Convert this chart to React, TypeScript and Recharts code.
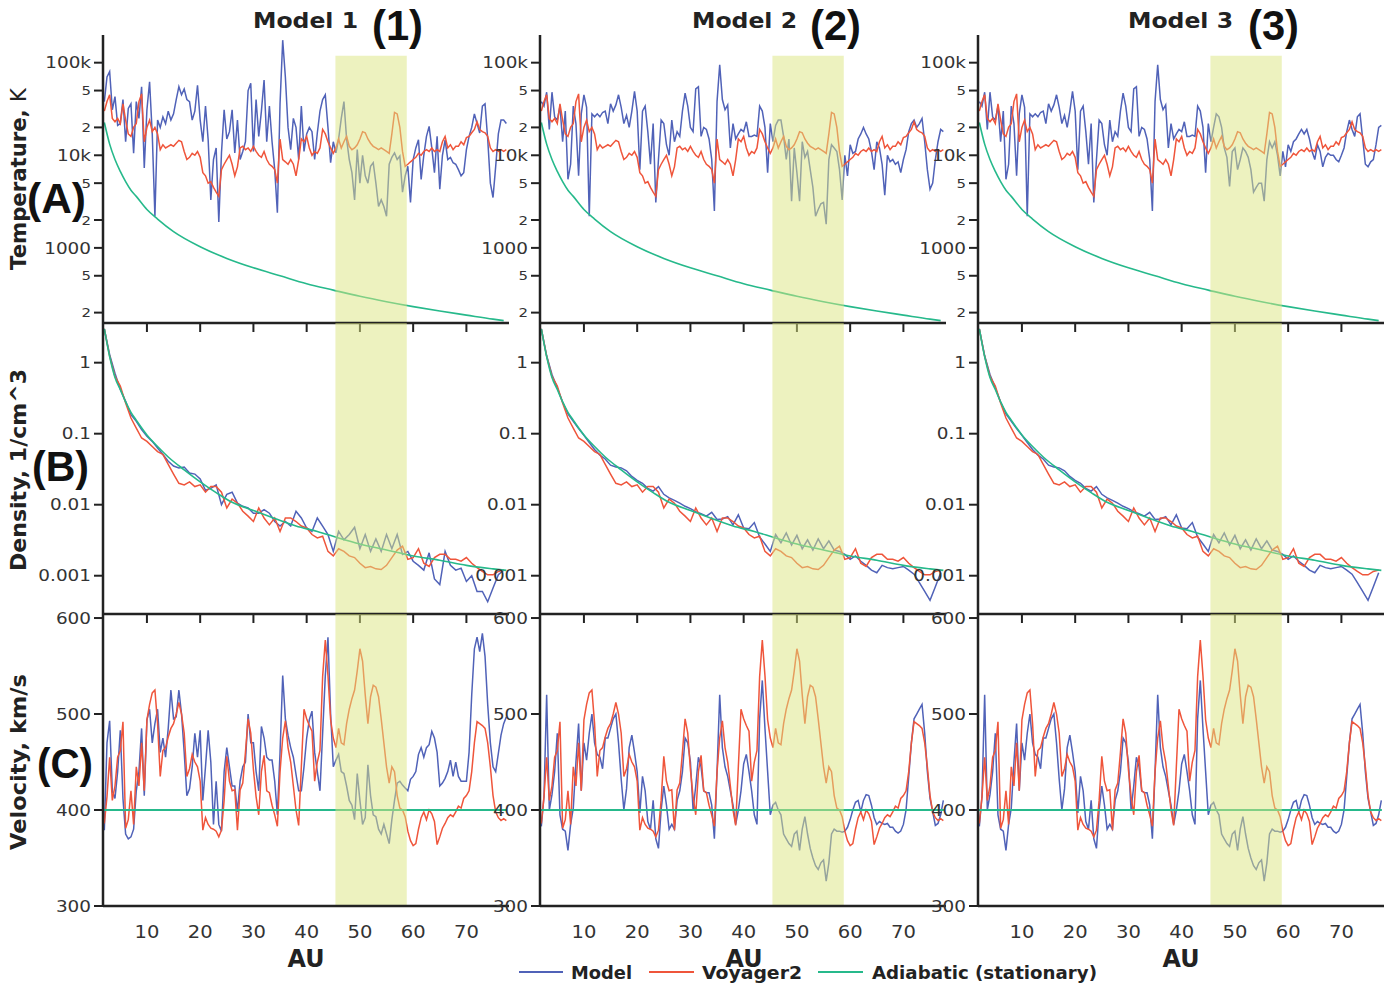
import React from 'react';
import { LineChart, Line, XAxis, YAxis, ReferenceArea } from 'recharts';

const FONT = "'DejaVu Sans', Verdana, sans-serif";
const BIG_FONT = "'Liberation Sans', Arial, sans-serif";
const BLUE = '#5062b8';
const RED = '#ef553b';
const GREEN = '#26b98b';
const BAND = '#dbe57f';
const INK = '#222';

// AU grids
const auFine = [
  2, 2.5, 3, 3.5, 4, 4.5, 5, 5.5, 6, 6.5,
  7, 7.5, 8, 8.5, 9, 9.5, 10, 10.5, 11, 11.5,
  12, 12.5, 13, 13.5, 14, 14.5, 15, 15.5, 16, 16.5,
  17, 17.5, 18, 18.5, 19, 19.5, 20, 20.5, 21, 21.5,
  22, 22.5, 23, 23.5, 24, 24.5, 25, 25.5, 26, 26.5,
  27, 27.5, 28, 28.5, 29, 29.5, 30, 30.5, 31, 31.5,
  32, 32.5, 33, 33.5, 34, 34.5, 35, 35.5, 36, 36.5,
  37, 37.5, 38, 38.5, 39, 39.5, 40, 40.5, 41, 41.5,
  42, 42.5, 43, 43.5, 44, 44.5, 45, 45.5, 46, 46.5,
  47, 47.5, 48, 48.5, 49, 49.5, 50, 50.5, 51, 51.5,
  52, 52.5, 53, 53.5, 54, 54.5, 55, 55.5, 56, 56.5,
  57, 57.5, 58, 58.5, 59, 59.5, 60, 60.5, 61, 61.5,
  62, 62.5, 63, 63.5, 64, 64.5, 65, 65.5, 66, 66.5,
  67, 67.5, 68, 68.5, 69, 69.5, 70, 70.5, 71, 71.5,
  72, 72.5, 73, 73.5, 74, 74.5, 75, 75.5, 76, 76.5,
  77, 77.5,
];
const auCoarse = [
  2, 3, 4, 5, 6, 7, 8, 9, 10, 11,
  12, 13, 14, 15, 16, 17, 18, 19, 20, 21,
  22, 23, 24, 25, 26, 27, 28, 29, 30, 31,
  32, 33, 34, 35, 36, 37, 38, 39, 40, 41,
  42, 43, 44, 45, 46, 47, 48, 49, 50, 51,
  52, 53, 54, 55, 56, 57, 58, 59, 60, 61,
  62, 63, 64, 65, 66, 67, 68, 69, 70, 71,
  72, 73, 74, 75, 76, 77,
];

// Temperature, K
const voyT = [
  30000, 38000, 45000, 25000, 23000, 25000, 22000, 36000, 24000, 17000,
  16000, 20000, 22000, 38000, 46000, 14000, 20000, 24000, 18000, 20000,
  17000, 11500, 13000, 12000, 12500, 13000, 12500, 13500, 14500, 14000,
  11000, 9000, 9500, 10500, 10000, 11000, 9500, 6500, 6000, 5000,
  5200, 4500, 4000, 3600, 7000, 8000, 9000, 10000, 8000, 6000,
  7500, 12000, 12500, 11500, 12000, 11000, 12500, 11000, 10000, 9500,
  11000, 9000, 8000, 7600, 7000, 5000, 15000, 9000, 8500, 8000,
  9000, 8000, 6000, 9000, 15000, 14000, 16000, 12000, 10000, 11000,
  10500, 12000, 19000, 17000, 14000, 12000, 10500, 12000, 15000, 12000,
  14000, 16000, 12500, 11500, 12000, 13000, 15000, 18000, 17500, 15000,
  13500, 12500, 12000, 11500, 12000, 11500, 11000, 10500, 17000, 29000,
  28000, 20000, 11000, 7600, 8000, 8500, 9000, 9500, 10500, 10000,
  11000, 11500, 11000, 12000, 11000, 11500, 11000, 14000, 16000, 12000,
  13000, 11500, 12500, 12500, 14000, 13000, 15500, 16000, 17500, 19000,
  23000, 19000, 18000, 17500, 16000, 12000, 11000, 11500, 11000, 11500,
  11000, 11500,
];
const m1T = [
  38000, 70000, 80000, 31000, 43000, 21000, 22000, 40000, 14000, 32000,
  36000, 10500, 38000, 25000, 55000, 7300, 31000, 62000, 17000, 2200,
  24000, 20000, 26000, 22000, 30000, 24000, 28000, 40000, 55000, 45000,
  52000, 40000, 38000, 24000, 30000, 57000, 24000, 14000, 34000, 14700,
  3300, 9000, 12000, 1900, 10600, 31000, 15000, 18000, 31000, 10600,
  24000, 9000, 11000, 14000, 50000, 60000, 11000, 40000, 16000, 30000,
  65000, 14000, 34000, 14000, 7000, 2400, 36000, 175000, 70000, 20000,
  11500, 25000, 20000, 9000, 34000, 11000, 17000, 20000, 18000, 9000,
  17400, 30000, 40000, 45000, 20000, 8300, 14000, 10600, 15000, 25000,
  38000, 15000, 9000, 6500, 3300, 11500, 5000, 10000, 6000, 5000,
  7600, 8300, 5000, 2800, 3300, 2800, 2200, 8000, 9500, 10600,
  9000, 9800, 4000, 6000, 7600, 3100, 9000, 12000, 14700, 5500,
  10000, 16000, 20500, 12000, 6500, 16000, 4300, 10000, 14700, 9000,
  9500, 8300, 8000, 7000, 6000, 6500, 11500, 16000, 20000, 28000,
  22000, 17400, 34000, 36000, 15000, 5000, 3500, 7600, 17000, 24000,
  24000, 22000,
];
const m2T = [
  38000, 34000, 48000, 19000, 48000, 26000, 24000, 34000, 14000, 30000,
  5500, 8000, 34000, 22000, 6000, 28000, 45000, 33000, 2200, 28000,
  26000, 28000, 26000, 29000, 30000, 22000, 36000, 30000, 35000, 45000,
  33000, 22000, 27000, 20000, 30000, 49000, 30000, 7000, 30000, 34000,
  18000, 8000, 22000, 3100, 9000, 24000, 22000, 13000, 10000, 24000,
  14000, 18000, 16000, 30000, 47000, 34000, 20000, 18000, 52000, 55000,
  16000, 20000, 19000, 15000, 9000, 2500, 38000, 95000, 40000, 31000,
  35000, 12000, 22000, 15000, 17000, 19000, 18000, 23000, 16000, 16000,
  16500, 16000, 34000, 30000, 20000, 6500, 22000, 14000, 21000, 24000,
  24000, 16000, 9000, 15000, 3200, 12000, 6500, 3200, 14000, 9500,
  11000, 7000, 4500, 2200, 2600, 3000, 3100, 1800, 9000, 13000,
  12000, 11000, 7000, 3300, 10000, 6000, 13000, 10500, 11000, 15000,
  17000, 20000, 17000, 15000, 11000, 7000, 14000, 12000, 8000, 3700,
  10000, 8500, 9000, 8000, 8500, 6500, 9000, 11500, 18000, 22000,
  24000, 20000, 22000, 25000, 14000, 7000, 4300, 5000, 9000, 14000,
  19000, 18000,
];
const m3T = [
  38000, 34000, 48000, 19000, 48000, 26000, 24000, 34000, 14000, 30000,
  5500, 8000, 34000, 22000, 6000, 28000, 45000, 33000, 2200, 28000,
  26000, 28000, 26000, 29000, 30000, 22000, 36000, 30000, 35000, 45000,
  33000, 22000, 27000, 20000, 30000, 49000, 30000, 7000, 30000, 34000,
  18000, 8000, 22000, 3100, 9000, 24000, 22000, 13000, 10000, 24000,
  14000, 18000, 16000, 30000, 47000, 34000, 20000, 18000, 52000, 55000,
  16000, 20000, 19000, 15000, 9000, 2500, 38000, 95000, 40000, 31000,
  35000, 12000, 22000, 15000, 17000, 19000, 18000, 23000, 16000, 16000,
  16500, 16000, 34000, 30000, 20000, 6500, 22000, 14000, 20000, 28000,
  26000, 20000, 12000, 9500, 4600, 11000, 12000, 7000, 9000, 12000,
  11000, 9500, 7000, 4000, 4500, 5000, 5000, 3200, 9000, 14000,
  12000, 14000, 10000, 6000, 11000, 7500, 13000, 11000, 14000, 15000,
  17000, 19000, 17000, 19000, 15000, 11000, 9000, 13000, 11000, 7500,
  9500, 10500, 10000, 10000, 9000, 8500, 10000, 12000, 18000, 24000,
  19000, 16000, 26000, 28000, 15000, 8000, 7500, 8500, 9000, 13000,
  20000, 21000,
];
const adiTAu = [2, 3, 4, 5, 6, 7, 8, 10, 12, 15, 20, 25, 30, 35, 40, 45, 50, 55, 60, 65, 70, 75, 77];
const adiT = [22600, 13200, 9000, 6700, 5200, 4200, 3600, 2600, 2050, 1500, 1030, 770, 610, 500, 410, 350, 300, 262, 232, 208, 188, 170, 164];

// Density, 1/cm^3
const voyN = [
  3.0, 1.23, 0.64, 0.47, 0.27, 0.166, 0.12, 0.087, 0.078, 0.066,
  0.056, 0.051, 0.037, 0.027, 0.02, 0.019, 0.021, 0.018, 0.019, 0.015,
  0.018, 0.018, 0.015, 0.009, 0.012, 0.0105, 0.0081, 0.0069, 0.0058, 0.009,
  0.0065, 0.0052, 0.0065, 0.0042, 0.0065, 0.0065, 0.0058, 0.005, 0.0047, 0.0038,
  0.0034, 0.0036, 0.0022, 0.0019, 0.0024, 0.0022, 0.0019, 0.0018, 0.0015, 0.0013,
  0.00135, 0.00125, 0.00122, 0.0014, 0.0018, 0.0023, 0.0026, 0.0017, 0.0018, 0.0024,
  0.0015, 0.00135, 0.0018, 0.002, 0.002, 0.0017, 0.0017, 0.0016, 0.0018, 0.0015,
  0.0013, 0.00115, 0.00103, 0.00103, 0.00115, 0.0012,
];
const m1N = [
  3.0, 1.3, 0.71, 0.42, 0.285, 0.185, 0.149, 0.114, 0.092, 0.078,
  0.063, 0.051, 0.041, 0.035, 0.033, 0.034, 0.028, 0.027, 0.023, 0.016,
  0.017, 0.019, 0.01, 0.014, 0.015, 0.0105, 0.0095, 0.009, 0.0076, 0.0076,
  0.0085, 0.0076, 0.0058, 0.005, 0.0058, 0.005, 0.0081, 0.0065, 0.0047, 0.0042,
  0.0065, 0.005, 0.0038, 0.0022, 0.0042, 0.0032, 0.0038, 0.0048, 0.0024, 0.0038,
  0.0022, 0.0033, 0.0022, 0.0038, 0.0024, 0.0038, 0.002, 0.0022, 0.0016, 0.0014,
  0.0012, 0.0021, 0.0009, 0.00075, 0.0022, 0.0014, 0.0012, 0.00128, 0.00083, 0.001,
  0.0006, 0.0006, 0.00043, 0.00067, 0.00103, 0.0012,
];
// models 2 and 3 show the same density curve
const m2N = [
  3.0, 1.25, 0.68, 0.44, 0.28, 0.19, 0.15, 0.118, 0.095, 0.075,
  0.06, 0.05, 0.044, 0.036, 0.034, 0.033, 0.03, 0.025, 0.022, 0.02,
  0.017, 0.0155, 0.018, 0.014, 0.0125, 0.0115, 0.0105, 0.0095, 0.0088, 0.008,
  0.0075, 0.0069, 0.0078, 0.0062, 0.0063, 0.0068, 0.0052, 0.0072, 0.0047, 0.0046,
  0.0056, 0.0035, 0.0028, 0.0022, 0.0038, 0.0029, 0.004, 0.0027, 0.0037, 0.0024,
  0.0032, 0.0023, 0.0033, 0.0024, 0.0031, 0.0023, 0.0022, 0.002, 0.0017, 0.0019,
  0.0016, 0.0014, 0.0012, 0.0011, 0.0014, 0.0013, 0.00125, 0.0013, 0.00135, 0.0012,
  0.00105, 0.0008, 0.0006, 0.00045, 0.0007, 0.0011,
];
const adiNAu = [2, 3, 4, 5, 6, 7, 8, 10, 12, 14, 17, 20, 23, 26, 30, 34, 38, 42, 46, 50, 55, 60, 65, 70, 75, 77.5];
const adiN = [3.0, 1.22, 0.62, 0.42, 0.28, 0.2, 0.155, 0.096, 0.066, 0.047, 0.031, 0.021, 0.0148, 0.0108, 0.0083, 0.0064, 0.005, 0.0042, 0.0034, 0.0028, 0.0023, 0.0019, 0.00165, 0.0014, 0.00125, 0.00119];

// Velocity, km/s
const voyV = [
  386, 414, 455, 410, 425, 455, 462, 492, 381, 390,
  420, 385, 445, 425, 470, 420, 494, 510, 522, 525,
  490, 435, 462, 465, 476, 485, 490, 500, 512, 500,
  480, 435, 443, 458, 450, 445, 430, 379, 392, 385,
  381, 380, 378, 372, 379, 410, 456, 430, 420, 421,
  379, 421, 428, 460, 495, 480, 442, 414, 395, 440,
  457, 420, 418, 405, 395, 383, 440, 475, 493, 465,
  450, 425, 400, 384, 445, 505, 495, 488, 482, 430,
  450, 462, 539, 577, 540, 494, 475, 465, 485, 470,
  468, 490, 505, 516, 525, 545, 568, 555, 520, 490,
  518, 530, 528, 518, 495, 470, 445, 428, 445, 440,
  415, 402, 400, 393, 378, 368, 363, 365, 380, 392,
  398, 390, 400, 396, 388, 364, 372, 381, 386, 392,
  395, 393, 398, 404, 402, 412, 415, 420, 440, 470,
  492, 490, 488, 485, 470, 445, 415, 398, 392, 389,
  391, 389,
];
const m1V = [
  379, 470, 493, 420, 412, 440, 483, 412, 375, 370,
  372, 380, 420, 440, 485, 415, 494, 505, 470, 490,
  505, 460, 475, 455, 485, 525, 495, 497, 525, 500,
  460, 415, 422, 445, 480, 455, 483, 410, 445, 483,
  450, 385, 430, 385, 378, 440, 465, 445, 425, 425,
  398, 430, 445, 450, 500, 470, 470, 440, 420, 487,
  475, 455, 452, 452, 430, 395, 460, 540, 495, 478,
  465, 455, 437, 420, 420, 445, 475, 494, 503, 460,
  440, 420, 480, 540, 580, 500, 445, 452, 458, 440,
  438, 425, 410, 405, 390, 438, 410, 385, 392, 447,
  415, 395, 393, 380, 375, 385, 375, 365, 390, 410,
  428, 430, 426, 423, 420, 432, 435, 440, 458, 465,
  455, 465, 468, 482, 475, 460, 425, 428, 433, 440,
  452, 435, 450, 435, 430, 430, 430, 460, 520, 568,
  580, 565, 584, 560, 510, 470, 445, 440, 459, 478,
  490, 497,
];
// models 2 and 3 show the same velocity curve
const m2V = [
  383, 414, 520, 400, 416, 440, 480, 395, 380, 378,
  358, 385, 402, 450, 490, 420, 470, 452, 480, 500,
  470, 458, 455, 443, 475, 475, 485, 495, 500, 470,
  432, 400, 422, 465, 478, 460, 440, 397, 435, 420,
  388, 380, 410, 370, 360, 400, 425, 405, 380, 385,
  380, 410, 420, 440, 475, 470, 450, 400, 425, 455,
  445, 420, 418, 418, 405, 370, 440, 520, 465, 445,
  435, 420, 405, 385, 400, 420, 448, 458, 440, 420,
  395, 385, 495, 535, 485, 440, 395, 405, 408, 400,
  395, 375, 370, 365, 362, 375, 378, 358, 380, 393,
  375, 360, 350, 342, 338, 345, 348, 326, 345, 375,
  380, 378, 378, 377, 378, 382, 390, 400, 408, 410,
  398, 410, 416, 415, 405, 392, 385, 388, 386, 385,
  386, 382, 382, 378, 376, 378, 385, 400, 435, 470,
  495, 500, 505, 510, 480, 440, 412, 398, 384, 386,
  395, 410,
];
const adiVAu = [1.8, 77.6];
const adiV = [400, 400];

const auTicks = [10, 20, 30, 40, 50, 60, 70];
const tTicks = [200, 500, 1000, 2000, 5000, 10000, 20000, 50000, 100000];
const nTicks = [0.001, 0.01, 0.1, 1];
const vTicks = [300, 400, 500, 600];

const zip = (xs: number[], voy: number[], m: number[]) => xs.map((au, i) => ({ au, voy: voy[i], m: m[i] }));
const adiRows = (xs: number[], ys: number[]) => xs.map((au, i) => ({ au, v: ys[i] }));

const ROWS: Record<string, any> = {
  T: { top: 35, h: 288, domain: [154.5, 199000], scale: 'log', ticks: tTicks, adi: adiRows(adiTAu, adiT), bandTop: 119000 },
  N: { top: 323, h: 291, domain: [0.000289, 3.62], scale: 'log', ticks: nTicks, adi: adiRows(adiNAu, adiN) },
  V: { top: 614, h: 292, domain: [300, 604.2], scale: 'linear', ticks: vTicks, adi: adiRows(adiVAu, adiV) },
};

const COL_LEFT = [103, 540, 978];
const PLOT_W = 406;
const PAD_L = 70;
const PAD_R = 20;
const PAD_T = 8;

const tLabel = (v: number) => {
  if (v === 100000) return '100k';
  if (v === 10000) return '10k';
  if (v === 1000) return '1000';
  return String(v).charAt(0);
};

const YTick = ({ x, y, payload, row }: any) => {
  const v = payload.value;
  let label = String(v);
  let minor = false;
  if (row === 'T') {
    label = tLabel(v);
    minor = ![1000, 10000, 100000].includes(v);
  }
  return (
    <g transform={`translate(${x},${y}) scale(1.15,1)`}>
      <text x={0} y={0} dy="0.36em" textAnchor="end" fontFamily={FONT} fontSize={minor ? 13 : 16} fill="#333">
        {label}
      </text>
    </g>
  );
};

const XTick = ({ x, y, payload }: any) => (
  <g transform={`translate(${x},${y + 32}) scale(1.15,1)`}>
    <text x={0} y={0} textAnchor="middle" fontFamily={FONT} fontSize={17} fill="#333">
      {payload.value}
    </text>
  </g>
);

const Panel = ({ col, row, data }: { col: number; row: string; data: any[] }) => {
  const cfg = ROWS[row];
  const bottomRow = row === 'V';
  const xAxisH = bottomRow ? 50 : 12;
  const w = PAD_L + PLOT_W + PAD_R;
  const h = PAD_T + cfg.h + xAxisH;
  const adiWidth = row === 'V' ? 2.2 : 1.6;
  return (
    <div style={{ position: 'absolute', left: COL_LEFT[col] - PAD_L, top: cfg.top - PAD_T }}>
      <LineChart width={w} height={h} data={data} margin={{ top: PAD_T, right: PAD_R, left: 0, bottom: 0 }}>
        <XAxis
          type="number"
          dataKey="au"
          domain={[1.75, 78]}
          ticks={auTicks}
          allowDataOverflow
          height={xAxisH}
          axisLine={{ stroke: INK, strokeWidth: 2.5 }}
          tickLine={bottomRow ? false : { stroke: INK, strokeWidth: 2 }}
          tickSize={bottomRow ? 0 : 9}
          tickMargin={0}
          tick={bottomRow ? (p: any) => <XTick {...p} /> : () => <g />}
        />
        <YAxis
          type="number"
          scale={cfg.scale}
          domain={cfg.domain}
          ticks={cfg.ticks}
          allowDataOverflow
          width={PAD_L}
          axisLine={{ stroke: INK, strokeWidth: 2.5 }}
          tickLine={{ stroke: INK, strokeWidth: 2 }}
          tickSize={9}
          tickMargin={3}
          tick={(p: any) => <YTick {...p} row={row} />}
        />
        <Line type="linear" dataKey="m" stroke={BLUE} strokeWidth={1.5} dot={false} activeDot={false} isAnimationActive={false} />
        <Line type="linear" dataKey="voy" stroke={RED} strokeWidth={1.5} dot={false} activeDot={false} isAnimationActive={false} />
        <Line type="monotone" data={cfg.adi} dataKey="v" stroke={GREEN} strokeWidth={adiWidth} dot={false} activeDot={false} isAnimationActive={false} />
        <ReferenceArea
          x1={45.4}
          x2={58.8}
          y1={cfg.bandTop ? cfg.domain[0] : undefined}
          y2={cfg.bandTop}
          fill={BAND}
          fillOpacity={0.5}
          stroke="none"
          ifOverflow="hidden"
          zIndex={450}
        />
      </LineChart>
    </div>
  );
};

const titleX = [
  { model: 253, num: 372, n: '1' },
  { model: 692, num: 810, n: '2' },
  { model: 1128, num: 1248, n: '3' },
];
const auX = [306, 744, 1181];

export default function App() {
  const models = [
    { T: m1T, N: m1N, V: m1V },
    { T: m2T, N: m2N, V: m2V },
    { T: m3T, N: m2N, V: m2V },
  ];
  return (
    <div style={{ position: 'absolute', left: 0, top: 0, width: 1400, height: 987, background: '#fff', overflow: 'hidden' }}>
      {models.map((m, c) => (
        <React.Fragment key={c}>
          <Panel col={c} row="T" data={zip(auFine, voyT, m.T)} />
          <Panel col={c} row="N" data={zip(auCoarse, voyN, m.N)} />
          <Panel col={c} row="V" data={zip(auFine, voyV, m.V)} />
        </React.Fragment>
      ))}
      <svg width={1400} height={987} style={{ position: 'absolute', left: 0, top: 0, pointerEvents: 'none' }}>
        {titleX.map((t) => (
          <g key={t.n}>
            <text x={t.model} y={28} fontFamily={FONT} fontWeight="bold" fontSize={22} fill={INK} textLength={105} lengthAdjust="spacingAndGlyphs">
              {`Model ${t.n}`}
            </text>
            <text x={t.num} y={40} fontFamily={BIG_FONT} fontWeight="bold" fontSize={42} fill="#111" textLength={51} lengthAdjust="spacingAndGlyphs">
              {`(${t.n})`}
            </text>
          </g>
        ))}
        <text x={27} y={213} fontFamily={BIG_FONT} fontWeight="bold" fontSize={42} fill="#111" textLength={59} lengthAdjust="spacingAndGlyphs">(A)</text>
        <text x={32} y={481} fontFamily={BIG_FONT} fontWeight="bold" fontSize={42} fill="#111" textLength={57} lengthAdjust="spacingAndGlyphs">(B)</text>
        <text x={37} y={778} fontFamily={BIG_FONT} fontWeight="bold" fontSize={42} fill="#111" textLength={56} lengthAdjust="spacingAndGlyphs">(C)</text>

        <text transform="translate(26,179) rotate(-90)" textAnchor="middle" fontFamily={FONT} fontWeight="bold" fontSize={21} fill={INK} textLength={182} lengthAdjust="spacingAndGlyphs">
          Temperature, <tspan fontWeight="normal">K</tspan>
        </text>
        <text transform="translate(26,470) rotate(-90)" textAnchor="middle" fontFamily={FONT} fontWeight="bold" fontSize={21} fill={INK} textLength={202} lengthAdjust="spacingAndGlyphs">
          Density, 1/cm^3
        </text>
        <text transform="translate(26,762) rotate(-90)" textAnchor="middle" fontFamily={FONT} fontWeight="bold" fontSize={21} fill={INK} textLength={176} lengthAdjust="spacingAndGlyphs">
          Velocity, km/s
        </text>

        {auX.map((x) => (
          <text key={x} x={x} y={967} textAnchor="middle" fontFamily={FONT} fontWeight="bold" fontSize={24} fill={INK} textLength={37} lengthAdjust="spacingAndGlyphs">
            AU
          </text>
        ))}

        <line x1={519} x2={563} y1={972} y2={972} stroke={BLUE} strokeWidth={2} />
        <text x={571} y={979} fontFamily={FONT} fontWeight="bold" fontSize={18} fill={INK} textLength={61} lengthAdjust="spacingAndGlyphs">Model</text>
        <line x1={649} x2={694} y1={972} y2={972} stroke={RED} strokeWidth={2} />
        <text x={702} y={979} fontFamily={FONT} fontWeight="bold" fontSize={18} fill={INK} textLength={100} lengthAdjust="spacingAndGlyphs">Voyager2</text>
        <line x1={818} x2={863} y1={972} y2={972} stroke={GREEN} strokeWidth={2} />
        <text x={872} y={979} fontFamily={FONT} fontWeight="bold" fontSize={18} fill={INK} textLength={225} lengthAdjust="spacingAndGlyphs">Adiabatic (stationary)</text>
      </svg>
    </div>
  );
}
